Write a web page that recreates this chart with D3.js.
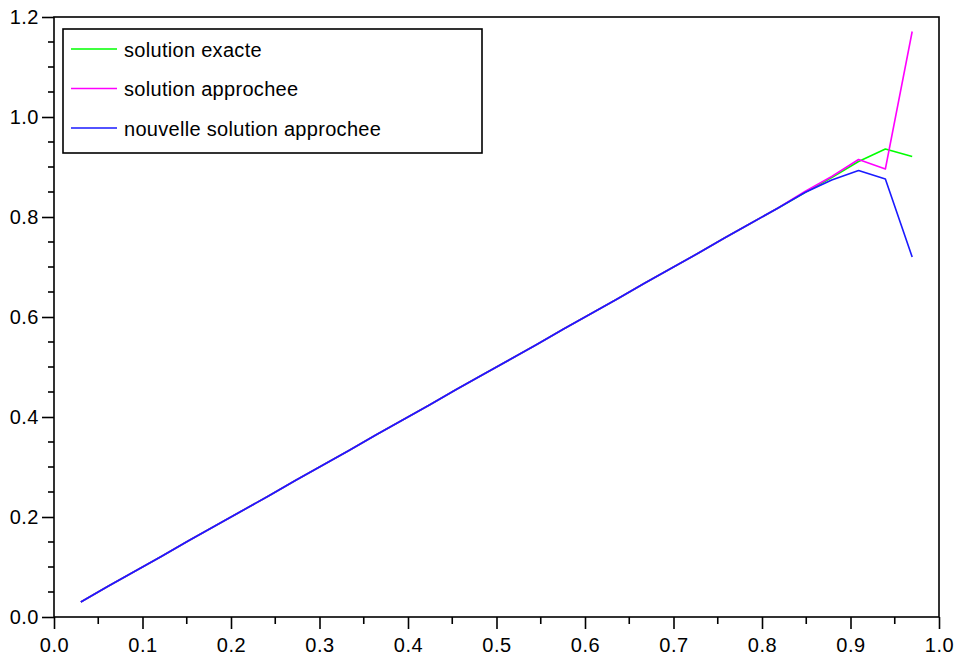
<!DOCTYPE html>
<html>
<head>
<meta charset="utf-8">
<script src="https://cdn.jsdelivr.net/npm/d3@7"></script>
<style>
  html, body { margin: 0; padding: 0; background: #ffffff; }
  svg { display: block; }
  text { font-family: "Liberation Sans", Arial, sans-serif; fill: #000; }
</style>
</head>
<body>
<svg id="chart" width="954" height="657"></svg>
<script>
// Mesh points (x_i) shared by the three curves
const xValues = [0.0303, 0.0606, 0.0909, 0.1212, 0.1515, 0.1818, 0.2121, 0.2424,
  0.2727, 0.3030, 0.3333, 0.3636, 0.3939, 0.4242, 0.4545, 0.4848, 0.5152, 0.5455,
  0.5758, 0.6061, 0.6364, 0.6667, 0.6970, 0.7273, 0.7576, 0.7879, 0.8182, 0.8485,
  0.8788, 0.9091, 0.9394, 0.9697];

// Exact solution
const exacte = [0.030, 0.061, 0.091, 0.121, 0.152, 0.182, 0.212, 0.242,
  0.273, 0.303, 0.333, 0.364, 0.394, 0.424, 0.455, 0.485, 0.515, 0.545,
  0.576, 0.606, 0.636, 0.667, 0.697, 0.727, 0.758, 0.788, 0.818, 0.849,
  0.879, 0.911, 0.936, 0.921];

// First approximate solution
const approchee = [0.030, 0.061, 0.091, 0.121, 0.152, 0.182, 0.212, 0.242,
  0.273, 0.303, 0.333, 0.364, 0.394, 0.424, 0.455, 0.485, 0.515, 0.545,
  0.576, 0.606, 0.636, 0.667, 0.697, 0.727, 0.758, 0.788, 0.818, 0.851,
  0.881, 0.915, 0.896, 1.171];

// New approximate solution
const nouvelle = [0.030, 0.061, 0.091, 0.121, 0.152, 0.182, 0.212, 0.242,
  0.273, 0.303, 0.333, 0.364, 0.394, 0.424, 0.455, 0.485, 0.515, 0.545,
  0.576, 0.606, 0.636, 0.667, 0.697, 0.727, 0.758, 0.788, 0.818, 0.849,
  0.874, 0.893, 0.876, 0.720];

const seriesNames = ["solution exacte", "solution approchee", "nouvelle solution approchee"];
const seriesColors = ["#00ff00", "#ff00ff", "#1a1aff"];
const xTicks = [0.0, 0.1, 0.2, 0.3, 0.4, 0.5, 0.6, 0.7, 0.8, 0.9, 1.0];
const yTicks = [0.0, 0.2, 0.4, 0.6, 0.8, 1.0, 1.2];

const svg = d3.select("#chart");
const plotLeft = 54, plotRight = 939, plotTop = 17, plotBottom = 617;

const x = d3.scaleLinear().domain([0, 1]).range([plotLeft, plotRight]);
const y = d3.scaleLinear().domain([0, 1.2]).range([plotBottom, plotTop]);

const fmt = d3.format(".1f");

// Frame
svg.append("rect")
  .attr("x", plotLeft).attr("y", plotTop)
  .attr("width", plotRight - plotLeft).attr("height", plotBottom - plotTop)
  .attr("fill", "none").attr("stroke", "#000").attr("stroke-width", 1.6);

// Minor ticks
const xMinor = d3.range(0.05, 1, 0.1);
const yMinor = d3.range(0, 1.2001, 0.05).filter(v => Math.abs(v * 5 - Math.round(v * 5)) > 1e-6);

svg.append("g").selectAll("line").data(xMinor).join("line")
  .attr("x1", d => x(d)).attr("x2", d => x(d))
  .attr("y1", plotBottom).attr("y2", plotBottom + 7)
  .attr("stroke", "#000").attr("stroke-width", 1.6);

svg.append("g").selectAll("line").data(yMinor).join("line")
  .attr("x1", plotLeft - 6).attr("x2", plotLeft)
  .attr("y1", d => y(d)).attr("y2", d => y(d))
  .attr("stroke", "#000").attr("stroke-width", 1.6);

// Major axes
const xAxis = d3.axisBottom(x).tickValues(xTicks).tickFormat(fmt).tickSize(12).tickPadding(8.5);
const yAxis = d3.axisLeft(y).tickValues(yTicks).tickFormat(fmt).tickSize(12).tickPadding(3);

const gx = svg.append("g").attr("transform", `translate(0,${plotBottom})`).call(xAxis);
const gy = svg.append("g").attr("transform", `translate(${plotLeft},0)`).call(yAxis);

[gx, gy].forEach(g => {
  g.select(".domain").remove();
  g.selectAll(".tick line").attr("stroke", "#000").attr("stroke-width", 1.6);
  g.selectAll(".tick text")
    .attr("font-family", "'Liberation Sans', Arial, sans-serif")
    .attr("font-size", 20).attr("fill", "#000")
    .style("letter-spacing", "0.5px");
});

// Curves: exact first, then the approximations on top
const line = d3.line().x(d => x(d[0])).y(d => y(d[1]));
const allSeries = [exacte, approchee, nouvelle];
allSeries.forEach((vals, k) => {
  svg.append("path")
    .datum(xValues.map((xv, i) => [xv, vals[i]]))
    .attr("d", line)
    .attr("fill", "none")
    .attr("stroke", seriesColors[k])
    .attr("stroke-width", 1.6)
    .attr("stroke-linejoin", "round");
});

// Legend
const lg = svg.append("g");
lg.append("rect")
  .attr("x", 63).attr("y", 29).attr("width", 419).attr("height", 124)
  .attr("fill", "#fff").attr("stroke", "#000").attr("stroke-width", 1.6);

seriesNames.forEach((name, k) => {
  const ly = 49 + k * 39.5;
  lg.append("line")
    .attr("x1", 71).attr("x2", 117)
    .attr("y1", ly).attr("y2", ly)
    .attr("stroke", seriesColors[k]).attr("stroke-width", 1.6);
  lg.append("text")
    .attr("x", 124).attr("y", ly + 7.5)
    .attr("font-size", 20)
    .style("letter-spacing", "0.3px")
    .text(name);
});
</script>
</body>
</html>
